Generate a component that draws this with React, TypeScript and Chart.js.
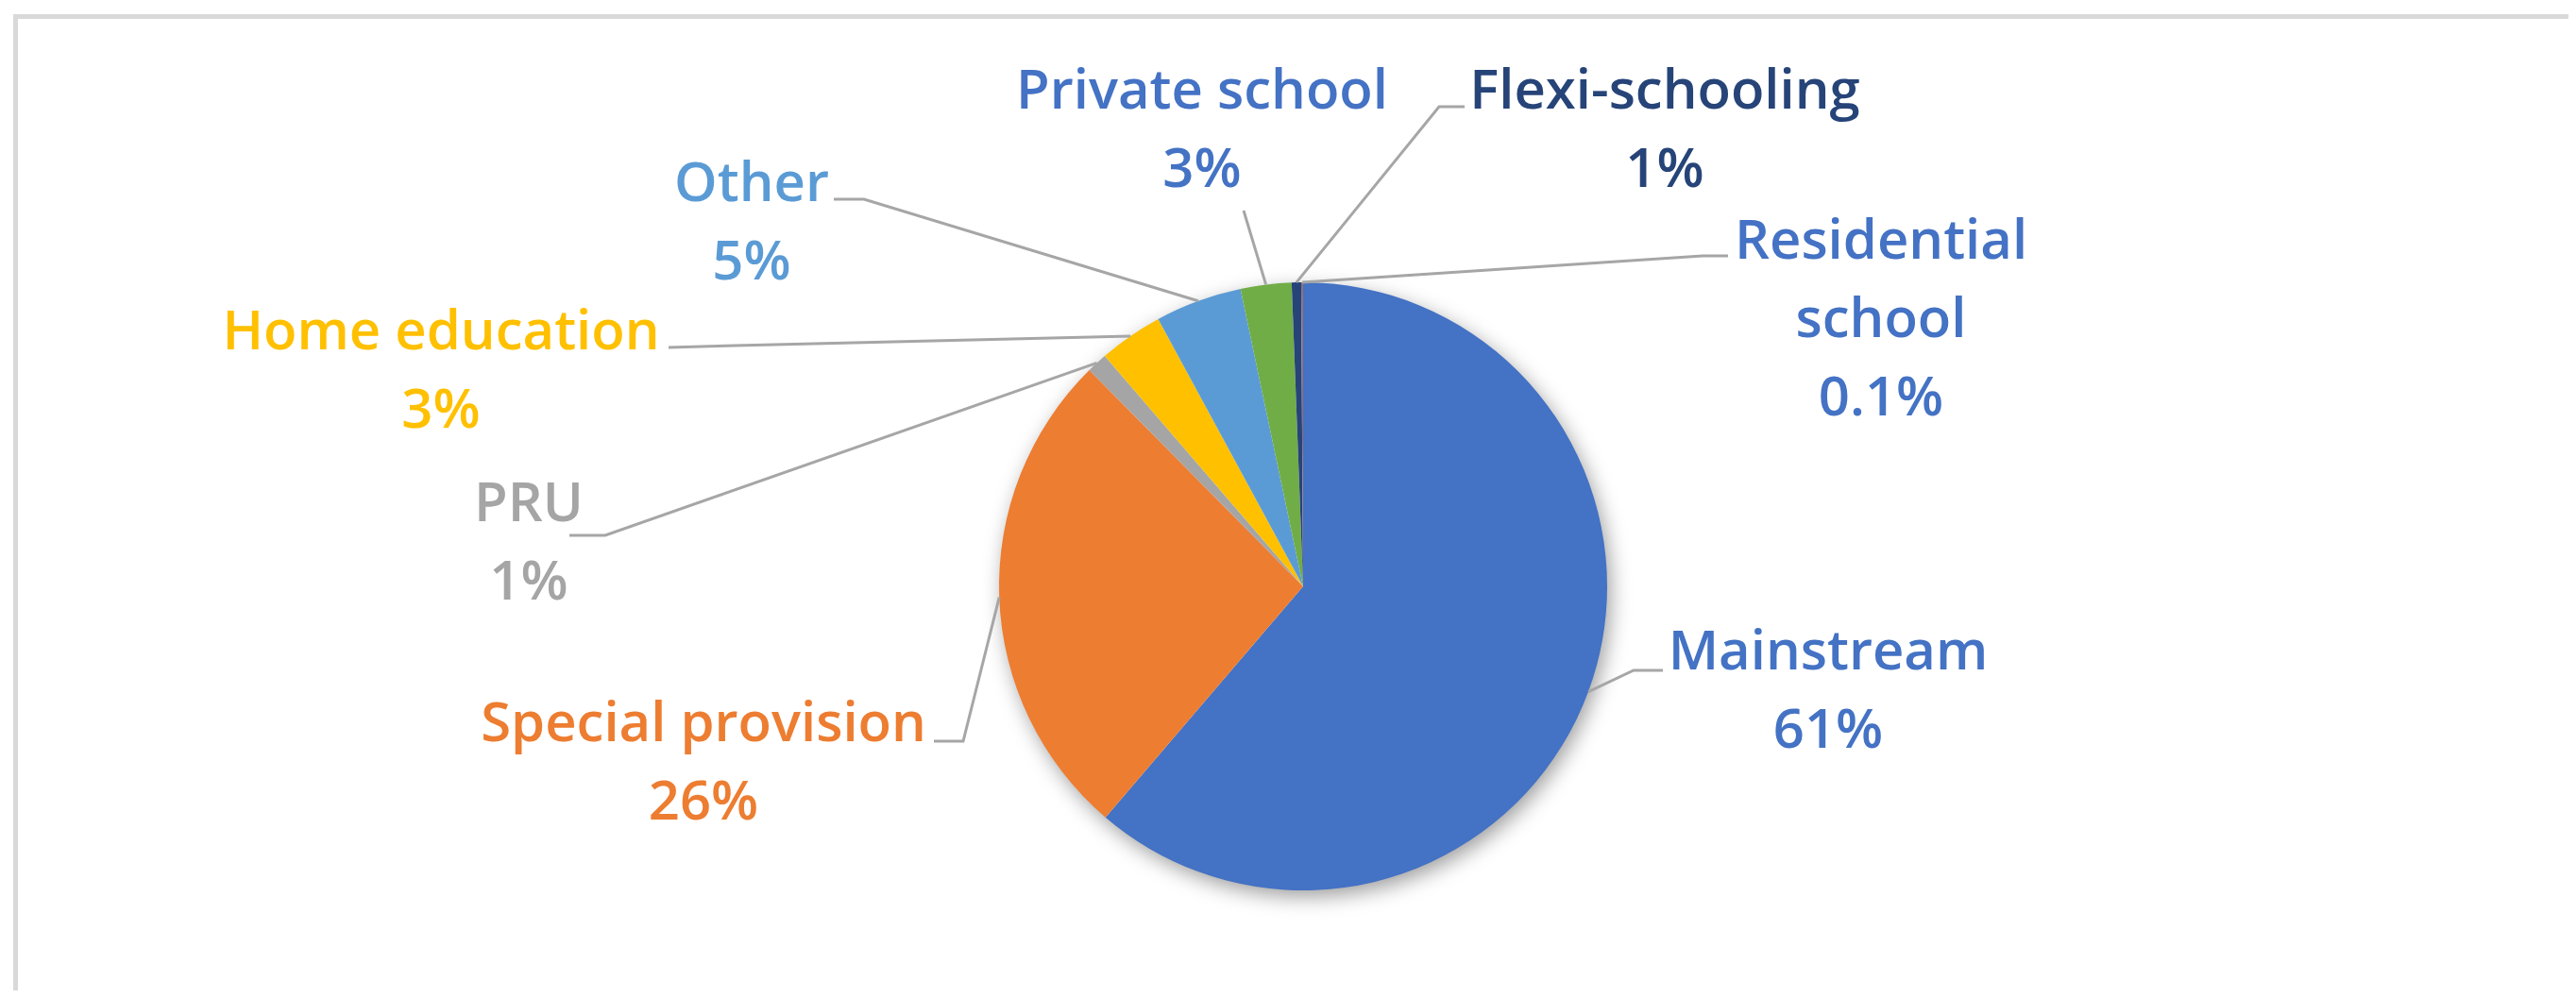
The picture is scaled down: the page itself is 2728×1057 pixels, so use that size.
import React, { useEffect, useRef } from "react";
import { Chart, registerables } from "chart.js";

Chart.register(...registerables);

// ---- data ----
const categories = [
  "Mainstream",
  "Special provision",
  "PRU",
  "Home education",
  "Other",
  "Private school",
  "Flexi-schooling",
  "Residential school",
];
const values = [61.2, 26.3, 1.1, 3.4, 4.6, 2.7, 0.5, 0.1];
const pctLabels = ["61%", "26%", "1%", "3%", "5%", "3%", "1%", "0.1%"];
const labelLines = [
  ["Mainstream"],
  ["Special provision"],
  ["PRU"],
  ["Home education"],
  ["Other"],
  ["Private school"],
  ["Flexi-schooling"],
  ["Residential", "school"],
];

// ---- styles ----
const sliceColors = ["#4472C4", "#ED7D31", "#A5A5A5", "#FFC000", "#5B9BD5", "#70AD47", "#264478", "#8E6F7C"];
const textColors = ["#4472C4", "#ED7D31", "#A5A5A5", "#FFC000", "#5B9BD5", "#4472C4", "#264478", "#4472C4"];

// label layout: offsets from the pie centre (text centre x / first baseline y, leader stub end, elbow)
type LP = { tx: number; ty: number; sx: number; sy: number; ex?: number; ey?: number };
const labelLayout: LP[] = [
  { tx: 556, ty: 88, sx: 381, sy: 89, ex: 350, ey: 89 },
  { tx: -635, ty: 164, sx: -391, sy: 164, ex: -360, ey: 164 },
  { tx: -820, ty: -69, sx: -777, sy: -54, ex: -739, ey: -54 },
  { tx: -913, ty: -251, sx: -672, sy: -253, ex: -602, ey: -255 },
  { tx: -584, ty: -408, sx: -497, sy: -410, ex: -465, ey: -410 },
  { tx: -107, ty: -506, sx: -63, sy: -398 },
  { tx: 383, ty: -506, sx: 171, sy: -508, ex: 144, ey: -508 },
  { tx: 612, ty: -347, sx: 450, sy: -350, ex: 423, ey: -350 },
];
const FONT = "600 58px 'Open Sans', 'Noto Sans', sans-serif";
const LINE_H = 83;

const shadowPlugin = {
  id: "pieShadow",
  beforeDatasetsDraw(chart: any) {
    const meta = chart.getDatasetMeta(0);
    const a = meta.data[0];
    if (!a) return;
    const ctx = chart.ctx;
    ctx.save();
    ctx.shadowColor = "rgba(0,0,0,0.4)";
    ctx.shadowBlur = 22;
    ctx.shadowOffsetX = 4;
    ctx.shadowOffsetY = 7;
    ctx.fillStyle = "#ffffff";
    ctx.beginPath();
    ctx.arc(a.x, a.y, a.outerRadius - 1, 0, Math.PI * 2);
    ctx.fill();
    ctx.restore();
  },
};

const labelPlugin = {
  id: "pieLabels",
  afterDatasetsDraw(chart: any) {
    const meta = chart.getDatasetMeta(0);
    const ctx = chart.ctx;
    ctx.save();
    meta.data.forEach((arc: any, i: number) => {
      const L = labelLayout[i];
      const cx = arc.x;
      const cy = arc.y;
      const mid = (arc.startAngle + arc.endAngle) / 2;
      const px = cx + Math.cos(mid) * arc.outerRadius;
      const py = cy + Math.sin(mid) * arc.outerRadius;
      // leader line
      ctx.strokeStyle = "#A6A6A6";
      ctx.lineWidth = 3;
      ctx.beginPath();
      ctx.moveTo(cx + L.sx, cy + L.sy);
      if (L.ex !== undefined && L.ey !== undefined) ctx.lineTo(cx + L.ex, cy + L.ey);
      ctx.lineTo(px, py);
      ctx.stroke();
      // text
      ctx.font = FONT;
      ctx.fillStyle = textColors[i];
      ctx.textAlign = "center";
      ctx.textBaseline = "alphabetic";
      const lines = [...labelLines[i], pctLabels[i]];
      lines.forEach((t, k) => {
        ctx.fillText(t, cx + L.tx, cy + L.ty + k * LINE_H);
      });
    });
    ctx.restore();
  },
};

export default function App() {
  const ref = useRef<HTMLCanvasElement | null>(null);
  useEffect(() => {
    if (!ref.current) return;
    const chart = new Chart(ref.current, {
      type: "pie",
      data: {
        labels: categories,
        datasets: [
          {
            data: values,
            backgroundColor: sliceColors,
            borderWidth: 0,
            hoverOffset: 0,
            offset: 0,
          },
        ],
      },
      options: {
        animation: false,
        responsive: false,
        devicePixelRatio: 1,
        events: [],
        layout: { padding: { left: 32, right: 0, top: 291, bottom: 106 } },
        plugins: { legend: { display: false }, tooltip: { enabled: false } },
      },
      plugins: [shadowPlugin, labelPlugin],
    });
    return () => chart.destroy();
  }, []);
  return (
    <div style={{ position: "relative", width: 2712, height: 1041, overflow: "hidden", background: "#fff" }}>
      <div
        style={{
          position: "absolute",
          left: 6,
          top: 7,
          width: 3000,
          height: 2000,
          borderTop: "5px solid #D9D9D9",
          borderLeft: "5px solid #D9D9D9",
        }}
      />
      <canvas ref={ref} width={2712} height={1041} style={{ position: "absolute", left: 0, top: 0 }} />
    </div>
  );
}
